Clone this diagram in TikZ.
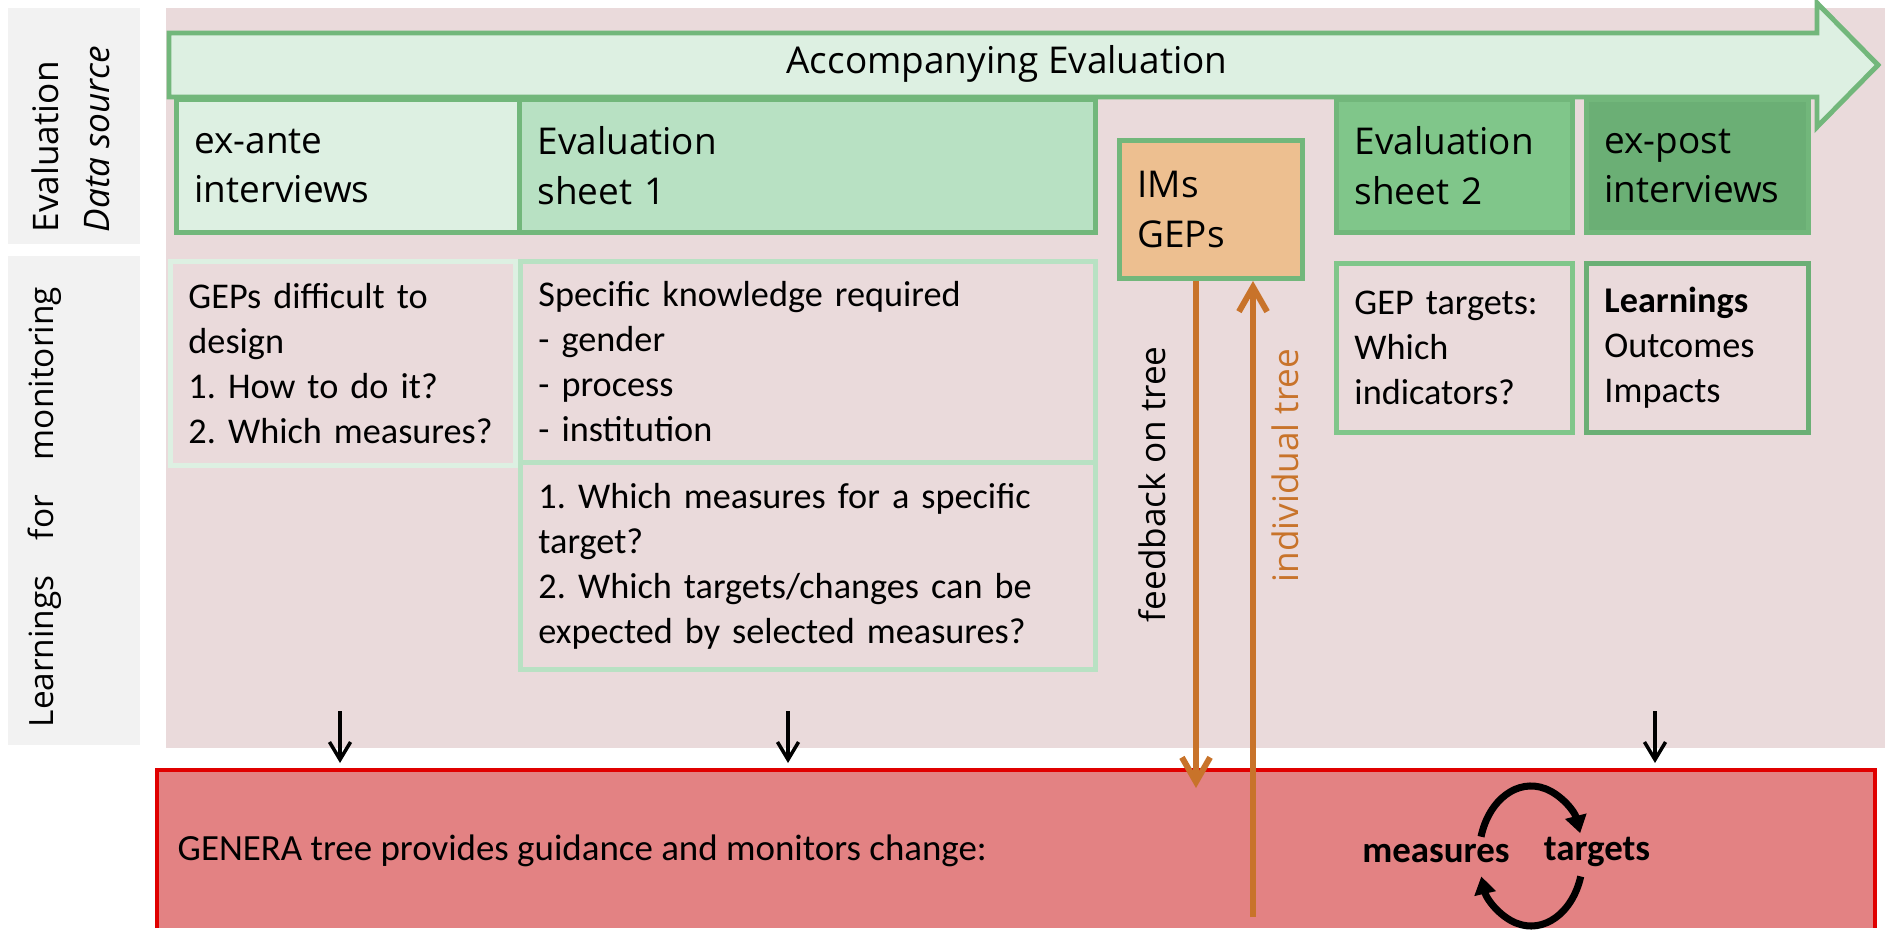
\documentclass[tikz,border=0pt]{standalone}
\usepackage{fontspec}
\usetikzlibrary{arrows.meta}
\newfontfamily\boxfont{Carlito}
\newfontfamily\headfont{Open Sans}
\definecolor{pinkbg}{HTML}{EADADB}
\definecolor{grayb}{HTML}{F2F2F2}
\definecolor{lgreen}{HTML}{DDF0E2}
\definecolor{bgreen}{HTML}{72B77B}
\definecolor{mgreen}{HTML}{B8E1C3}
\definecolor{sgreen}{HTML}{80C68A}
\definecolor{dgreen}{HTML}{6BAF75}
\definecolor{tanbox}{HTML}{EDBF90}
\definecolor{orangeln}{HTML}{C8732A}
\definecolor{redfill}{HTML}{E38283}
\definecolor{redline}{HTML}{E00000}
\frenchspacing
\hyphenpenalty=10000\relax

\begin{document}
\begin{tikzpicture}[x=0.01cm, y=-0.01cm,
    hbox/.style={rectangle, draw=bgreen, line width=1.4pt, inner xsep=1.8mm, inner ysep=0pt,
      anchor=north west, align=left, font=\headfont\fontsize{10.5}{14.2}\selectfont},
    lbox/.style={rectangle, fill=pinkbg, line width=1.4pt, inner xsep=1.8mm, inner ysep=0pt,
      anchor=north west, align=left, font=\boxfont\fontsize{10.3}{12.8}\selectfont},
    side/.style={rotate=90, anchor=base west, inner sep=0pt, font=\headfont\fontsize{10}{12}\selectfont},
    oarrow/.style={draw=orangeln, line width=1.7pt, -{Straight Barb[length=7pt,width=8pt]}},
    blkarrow/.style={draw=black, line width=1pt, -{Straight Barb[length=5pt,width=6pt]}},
    cycarrow/.style={draw=black, line width=2pt, -{Triangle[length=5pt,width=6pt]}}]
    \useasboundingbox (0,0) rectangle (1885,934);
    % Background
    \fill[grayb] (8,8) rectangle (140,244);
    \fill[grayb] (8,256) rectangle (140,745);
    \fill[pinkbg] (166,8) rectangle (1885,748);
    % Side labels
    \node[side] (evl) at (58,233) {Evaluation};
    \node[side, font=\headfont\itshape\fontsize{10}{12}\selectfont] (dsl) at (109,233) {Data source};
    \node[side, font=\headfont\fontsize{9.5}{12}\selectfont] (lfm) at (53,728)
      {Learnings\hspace{3.5mm}for\hspace{3.5mm}monitoring};
    % Timeline
    \draw[draw=bgreen, fill=lgreen, line width=1.4pt] (169,33) -- (1817,33) -- (1817,3) -- (1878,65)
      -- (1817,127) -- (1817,97) -- (169,97) -- cycle;
    \node[anchor=base, font=\headfont\fontsize{10.5}{12}\selectfont] (acc) at (1007,74) {Accompanying Evaluation};
    % Data sources
    \node[hbox, fill=lgreen, text width=30.7mm, minimum height=13.3mm] (exante) at (174,97) {ex-ante\\interviews};
    \node[hbox, fill=mgreen, text width=54.0mm, minimum height=13.3mm] (sheet1) at (517,97) {Evaluation\\sheet 1};
    \node[hbox, fill=tanbox, text width=14.7mm, minimum height=13.8mm] (ims) at (1117,138) {IMs\\GEPs};
    \node[hbox, fill=sgreen, text width=20.0mm, minimum height=13.3mm] (sheet2) at (1334,97) {Evaluation\\sheet 2};
    \node[hbox, fill=dgreen, text width=18.6mm, minimum height=13.3mm] (expost) at (1584,97) {ex-post\\interviews};
    % Learnings
    \node[lbox, draw=lgreen, text width=30.9mm, minimum height=20.4mm] (difficult) at (168,259)
      {GEPs difficult to\\design\\1. How to do it?\\2. Which measures?};
    \node[lbox, draw=mgreen, text width=53.9mm, minimum height=20.1mm] (knowledge) at (518,259)
      {Specific knowledge required\\- gender\\- process\\- institution};
    \node[lbox, draw=mgreen, text width=53.9mm, minimum height=20.7mm] (whichm) at (518,460)
      {1. Which measures for a specific\\target?\\2. Which targets/changes can be\\expected by selected measures?};
    \node[lbox, draw=sgreen, text width=20.0mm, minimum height=16.9mm] (geptgt) at (1334,261)
      {GEP targets:\\Which\\indicators?};
    \node[lbox, draw=dgreen, text width=18.6mm, minimum height=16.9mm] (learn) at (1584,261)
      {\textbf{Learnings}\\Outcomes\\Impacts};
    % Tree
    \fill[redfill] (157,770) rectangle (1875,928);
    \draw[redline, line width=1.4pt] (157,928) -- (157,770) -- (1875,770) -- (1875,928);
    \node[anchor=base west, inner sep=0pt, font=\boxfont\fontsize{10.5}{12}\selectfont] (gtext) at (177,860)
      {GENERA tree provides guidance and monitors change:};
    \node[anchor=base, inner sep=0pt, font=\boxfont\bfseries\fontsize{10.5}{12}\selectfont] (meas) at (1436,862) {measures};
    \node[anchor=base, inner sep=0pt, font=\boxfont\bfseries\fontsize{10.5}{12}\selectfont] (targ) at (1597,860) {targets};
    \coordinate (cyc) at (1531,856);
    \draw[cycarrow] (cyc) ++(196:52 and 70) arc[start angle=196, end angle=341, x radius=52, y radius=70];
    \draw[cycarrow] (cyc) ++(17:52 and 70) arc[start angle=17, end angle=163, x radius=52, y radius=70];
    % Arrows
    \foreach \x [count=\i] in {340,788,1655} {
      \coordinate (s\i) at (\x,711);
      \coordinate (e\i) at (\x,763);
      \draw[blkarrow] (s\i) -- (e\i);
    }
    \coordinate (fbend) at (1196,788);
    \coordinate (itstart) at (1253,917);
    \draw[oarrow] (ims.south -| fbend) -- (fbend);
    \draw[oarrow] (itstart) -- (itstart |- ims.south);
    \node[side] (fbl) at (1165,623) {feedback on tree};
    \node[side, text=orangeln] (itl) at (1298,583) {individual tree};
\end{tikzpicture}
\end{document}
